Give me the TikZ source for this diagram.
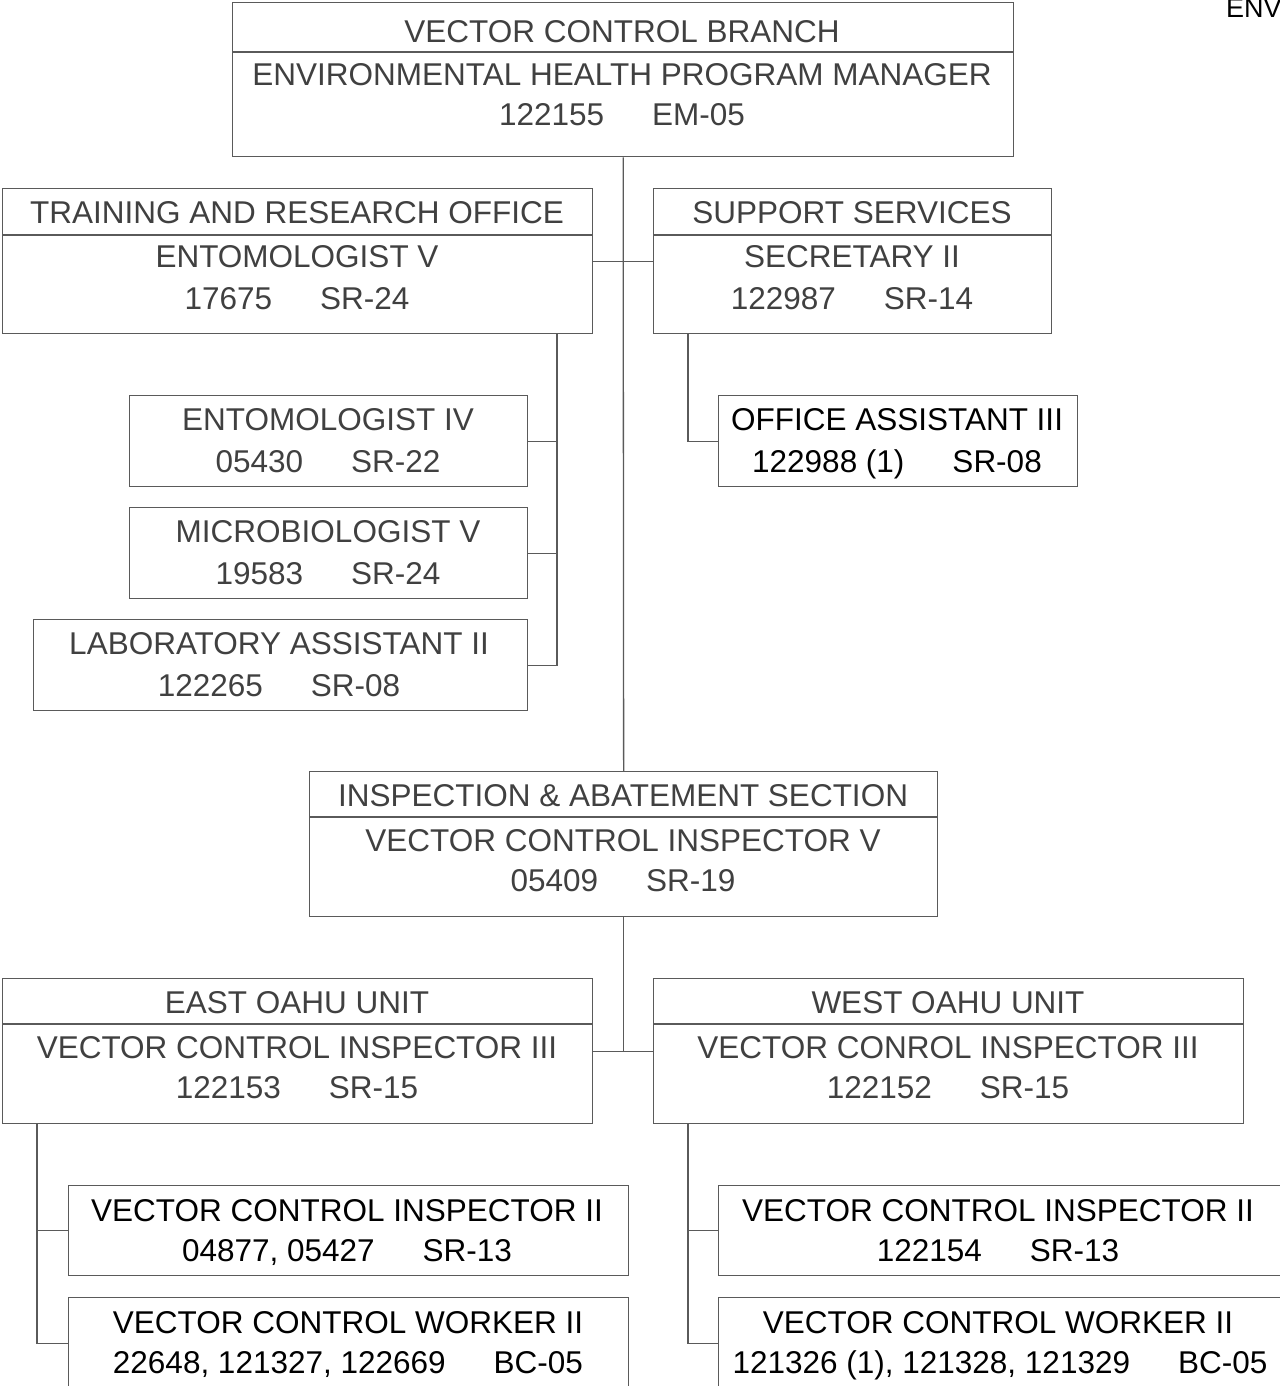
\documentclass[tikz,border=0pt]{standalone}
\usepackage{fontspec}
\setmainfont{Liberation Sans}
\definecolor{linegray}{HTML}{5A5A5A}
\definecolor{textgray}{HTML}{404040}
\newcommand\colgap{\hspace{48pt}}
\tikzset{
  box/.style={draw=linegray, line width=1.3pt, rectangle, inner sep=0pt, anchor=north west},
  lbl/.style={font=\fontsize{31.5}{36}\selectfont, text=textgray, inner sep=0pt, anchor=base},
  dark/.style={lbl, text=black},
  link/.style={draw=linegray, line width=1.3pt},
}
\begin{document}
\begin{tikzpicture}[x=1pt, y=-1pt]
      \useasboundingbox (0,0) rectangle (1279,1386);
      % boxes
      \node[box, minimum width=781pt, minimum height=154pt] (vcb) at (232,2) {};
      \node[box, minimum width=590pt, minimum height=145pt] (tro) at (2,188) {};
      \node[box, minimum width=398pt, minimum height=145pt] (sup) at (653,188) {};
      \node[box, minimum width=398pt, minimum height=91pt] (ent) at (129,395) {};
      \node[box, minimum width=398pt, minimum height=91pt] (mic) at (129,507) {};
      \node[box, minimum width=494pt, minimum height=91pt] (lab) at (33,619) {};
      \node[box, minimum width=359pt, minimum height=91pt] (oa) at (718,395) {};
      \node[box, minimum width=628pt, minimum height=145pt] (ia) at (309,771) {};
      \node[box, minimum width=590pt, minimum height=145pt] (east) at (2,978) {};
      \node[box, minimum width=590pt, minimum height=145pt] (west) at (653,978) {};
      \node[box, minimum width=560pt, minimum height=90pt] (insE) at (68,1185) {};
      \node[box, minimum width=560pt, minimum height=91pt] (wrkE) at (68,1297) {};
      \node[box, minimum width=566pt, minimum height=90pt] (insW) at (718,1185) {};
      \node[box, minimum width=566pt, minimum height=91pt] (wrkW) at (718,1297) {};
      % header rules
      \draw[link] (232,52) -- (1013,52);
      \draw[link] (2,235) -- (592,235);
      \draw[link] (653,235) -- (1051,235);
      \draw[link] (309,817) -- (937,817);
      \draw[link] (2,1024) -- (592,1024);
      \draw[link] (653,1024) -- (1243,1024);
      % texts
      \node[lbl] (vcb1) at (622,42.5) {VECTOR CONTROL BRANCH};
      \node[lbl] (vcb2) at (622,86) {ENVIRONMENTAL HEALTH PROGRAM MANAGER};
      \node[lbl] (vcb3) at (622,125.5) {122155\colgap EM-05};
      \node[lbl] (tro1) at (297,223) {TRAINING AND RESEARCH OFFICE};
      \node[lbl] (tro2) at (297,267) {ENTOMOLOGIST V};
      \node[lbl] (tro3) at (297,309) {17675\colgap SR-24};
      \node[lbl] (sup1) at (852,223) {SUPPORT SERVICES};
      \node[lbl] (sup2) at (852,267) {SECRETARY II};
      \node[lbl] (sup3) at (852,309) {122987\colgap SR-14};
      \node[lbl] (ent1) at (328,430) {ENTOMOLOGIST IV};
      \node[lbl] (ent2) at (328,472) {05430\colgap SR-22};
      \node[lbl] (mic1) at (328,542) {MICROBIOLOGIST V};
      \node[lbl] (mic2) at (328,584) {19583\colgap SR-24};
      \node[lbl] (lab1) at (279,654) {LABORATORY ASSISTANT II};
      \node[lbl] (lab2) at (279,696) {122265\colgap SR-08};
      \node[dark] (oa1) at (897,430) {OFFICE ASSISTANT III};
      \node[dark] (oa2) at (897,472) {122988 (1)\colgap SR-08};
      \node[lbl] (ia1) at (623,806) {INSPECTION \& ABATEMENT SECTION};
      \node[lbl] (ia2) at (623,851) {VECTOR CONTROL INSPECTOR V};
      \node[lbl] (ia3) at (623,891) {05409\colgap SR-19};
      \node[lbl] (east1) at (297,1013) {EAST OAHU UNIT};
      \node[lbl] (east2) at (297,1058) {VECTOR CONTROL INSPECTOR III};
      \node[lbl] (east3) at (297,1098) {122153\colgap SR-15};
      \node[lbl] (west1) at (948,1013) {WEST OAHU UNIT};
      \node[lbl] (west2) at (948,1058) {VECTOR CONROL INSPECTOR III};
      \node[lbl] (west3) at (948,1098) {122152\colgap SR-15};
      \node[dark] (insE1) at (347,1221) {VECTOR CONTROL INSPECTOR II};
      \node[dark] (insE2) at (347,1261) {04877, 05427\colgap SR-13};
      \node[dark] (wrkE1) at (348,1333) {VECTOR CONTROL WORKER II};
      \node[dark] (wrkE2) at (348,1373) {22648, 121327, 122669\colgap BC-05};
      \node[dark] (insW1) at (998,1221) {VECTOR CONTROL INSPECTOR II};
      \node[dark] (insW2) at (998,1261) {122154\colgap SR-13};
      \node[dark] (wrkW1) at (998,1333) {VECTOR CONTROL WORKER II};
      \node[dark] (wrkW2) at (1000,1373) {121326 (1), 121328, 121329\colgap BC-05};
      \node[font=\fontsize{27}{30}\selectfont, inner sep=0pt, anchor=base west] (div) at (1226,18) {ENV};
      % connectors
      \coordinate (troDown) at (557,333);
      \coordinate (supDown) at (688,333);
      \coordinate (eastDown) at (37,1123);
      \coordinate (westDown) at (688,1123);
      \coordinate (unitJoin) at (ia.south |- east.east);
      \begin{scope}[link]
        \draw (vcb.south) -- (ia.north);
        \draw (tro.east) -- (sup.west);
        \draw (ia.south) -- (unitJoin);
        \draw (east.east) -- (west.west);
        \draw (troDown) |- (ent.east);
        \draw (troDown) |- (mic.east);
        \draw (troDown) |- (lab.east);
        \draw (supDown) |- (oa.west);
        \draw (eastDown) |- (insE.west);
        \draw (eastDown) |- (wrkE.west);
        \draw (westDown) |- (insW.west);
        \draw (westDown) |- (wrkW.west);
      \end{scope}
    \end{tikzpicture}
\end{document}
